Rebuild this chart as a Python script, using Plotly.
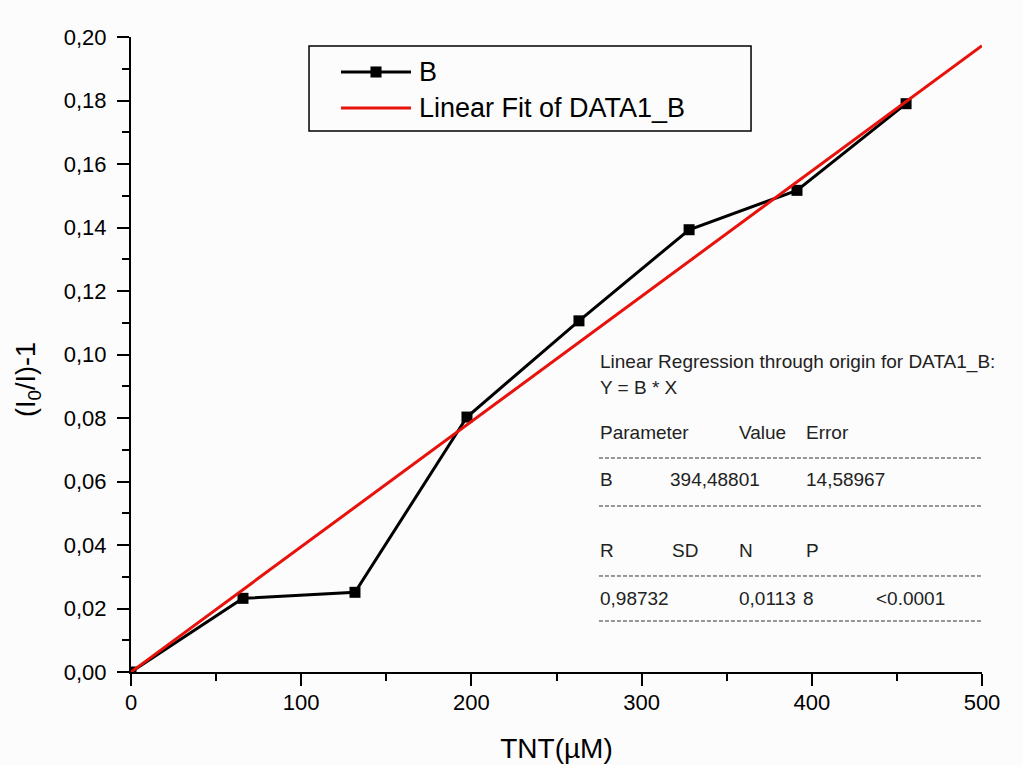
import plotly.graph_objects as go

# TNT concentration (µM) and quenching response (I0/I)-1
tnt_um = [0, 65.8, 131.6, 197.4, 263.2, 327.9, 391.3, 455.4]
response = [0.0, 0.0232, 0.0251, 0.0803, 0.1106, 0.1393, 0.1517, 0.1790]

# Linear regression through origin: Y = B * X (X in mol/L)
fit_B = 394.48801
fit_B_err = 14.58967
fit_R = "0,98732"
fit_SD = "0,0113"
fit_N = "8"
fit_P = "<0.0001"
fit_x = [0, 500]
fit_y = [fit_B * x * 1e-6 for x in fit_x]

series_names = ["B", "Linear Fit of DATA1_B"]
series_colors = ["black", "#e8120c"]

FONT = "Arial, Liberation Sans, sans-serif"

fig = go.Figure()
fig.add_trace(go.Scatter(
    x=tnt_um, y=response, mode="lines+markers", name=series_names[0],
    line=dict(color=series_colors[0], width=3),
    marker=dict(symbol="square", size=11, color=series_colors[0]),
))
fig.add_trace(go.Scatter(
    x=fit_x, y=fit_y, mode="lines", name=series_names[1],
    line=dict(color=series_colors[1], width=3),
))

axis_common = dict(
    showline=True, linecolor="black", linewidth=2,
    ticks="outside", ticklen=12, tickwidth=2, tickcolor="black",
    showgrid=False, zeroline=False, mirror=False, automargin=False,
    tickfont=dict(family=FONT, size=22, color="black"),
)

fig.update_xaxes(
    range=[0, 500], dtick=100, tick0=0,
    minor=dict(ticks="outside", ticklen=7, tickwidth=2, tickcolor="black", dtick=50),
    title=dict(text="TNT(µM)", font=dict(family=FONT, size=28, color="black"), standoff=24),
    ticklabelstandoff=-2,
    **axis_common,
)
fig.update_yaxes(
    range=[0, 0.2], dtick=0.02, tick0=0, tickformat=".2f",
    minor=dict(ticks="outside", ticklen=7, tickwidth=2, tickcolor="black", dtick=0.01),
    ticklabelstandoff=6,
    **axis_common,
)

# y-axis title
fig.add_annotation(x=-0.121, y=0.46, xref="paper", yref="paper",
                   text="(I<sub>0</sub>/I)-1", textangle=-90, showarrow=False,
                   xanchor="center", yanchor="middle",
                   font=dict(family=FONT, size=27, color="black"))

# Legend box
fig.add_shape(type="rect", xref="paper", yref="paper",
              x0=0.2092, x1=0.7286, y0=0.852, y1=0.9858,
              line=dict(color="black", width=1.5), fillcolor="#fcfcfc", layer="above")
legend_rows = [0.9449, 0.8882]
for i, yp in enumerate(legend_rows):
    fig.add_shape(type="line", xref="paper", yref="paper",
                  x0=0.2468, x1=0.3290, y0=yp, y1=yp,
                  line=dict(color=series_colors[i], width=3), layer="above")
    fig.add_annotation(x=0.3355, y=yp, xref="paper", yref="paper",
                       text=series_names[i], showarrow=False,
                       xanchor="left", yanchor="middle",
                       font=dict(family=FONT, size=27, color="black"))
# square marker on the "B" legend sample
fig.add_shape(type="rect", xref="paper", yref="paper",
              x0=0.2879 - 0.0065, x1=0.2879 + 0.0065,
              y0=legend_rows[0] - 0.0087, y1=legend_rows[0] + 0.0087,
              line=dict(width=0), fillcolor="black", layer="above")

# Regression summary table
ann_font = dict(family=FONT, size=19, color="#222222")
table_rows = [
    (0.4882, [(0.5488, "Linear Regression through origin for DATA1_B:")]),
    (0.4488, [(0.5488, "Y = B * X")]),
    (0.3764, [(0.5488, "Parameter"), (0.7121, "Value"), (0.7908, "Error")]),
    (0.3024, [(0.5488, "B"), (0.6310, f"{fit_B:.5f}".replace(".", ",")),
              (0.7908, f"{fit_B_err:.5f}".replace(".", ","))]),
    (0.1906, [(0.5488, "R"), (0.6334, "SD"), (0.7121, "N"), (0.7908, "P")]),
    (0.1165, [(0.5488, fit_R), (0.7121, fit_SD), (0.7873, fit_N), (0.8731, fit_P)]),
]
for yp, cells in table_rows:
    for xp, txt in cells:
        fig.add_annotation(x=xp, y=yp, xref="paper", yref="paper", text=txt,
                           showarrow=False, xanchor="left", yanchor="middle",
                           font=ann_font)
for yp in [0.3370, 0.2614, 0.1512, 0.0803]:
    fig.add_shape(type="line", xref="paper", yref="paper", x0=0.5499, x1=1.0,
                  y0=yp, y1=yp, line=dict(color="#333333", width=1, dash="4px,2px"))

fig.update_layout(
    width=1023, height=765,
    margin=dict(l=131, r=41, t=37, b=93),
    paper_bgcolor="#fcfcfc", plot_bgcolor="#fcfcfc",
    separators=",.",
    font=dict(family=FONT, color="black"),
    showlegend=False,
)

fig.write_html("out.html")
